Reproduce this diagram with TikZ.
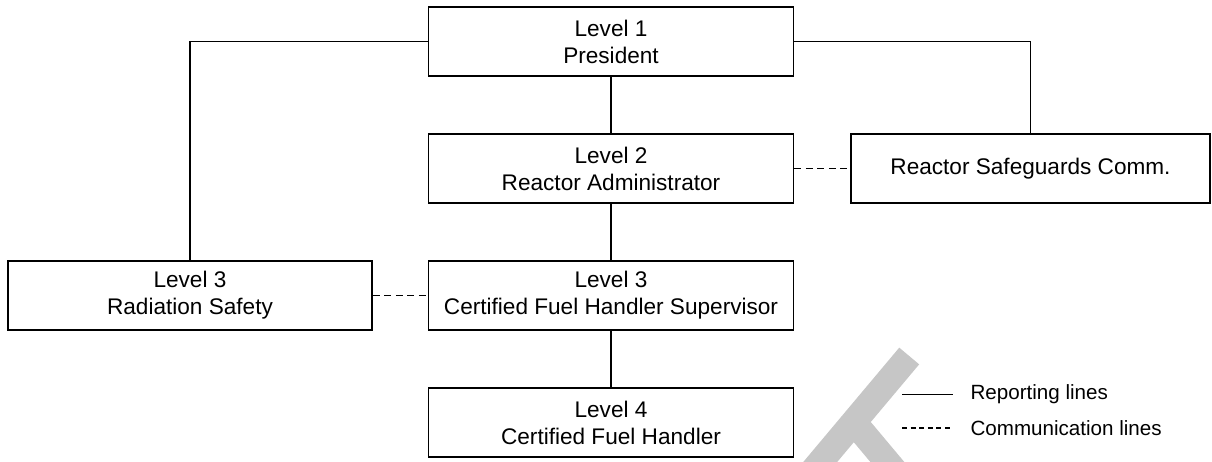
\documentclass[tikz,border=0pt]{standalone}
\usepackage{fontspec}
\setmainfont{Liberation Sans}
\definecolor{markgray}{RGB}{198,198,198}

\begin{document}
\begin{tikzpicture}[
    x=1pt, y=-1pt,
    every node/.style={font=\fontsize{22.6}{27}\selectfont},
    levelbox/.style={draw, line width=1.6pt, minimum width=365pt,
        minimum height=69pt, inner sep=0pt, align=center},
    repline/.style={line width=1.6pt},
    commline/.style={line width=1.6pt, dash pattern=on 7pt off 4.5pt},
    legendtext/.style={right, font=\fontsize{20.6}{24}\selectfont}
]

\useasboundingbox (0, 0) rectangle (1212, 462);

% ===== WATERMARK (partly shown) =====
\begin{scope}
    \clip (0, 0) rectangle (1212, 462);
    \draw[markgray, line width=26pt] (909.2, 356) -- (799.9, 486.2);
    \draw[markgray, line width=26pt] (853.8, 422) -- (905.2, 483.3);
\end{scope}

% ===== MAIN CHAIN: Levels 1 to 4 =====
\node[levelbox] (pres)   at (611, 41.5)  {Level 1\\President};
\node[levelbox] (admin)  at (611, 168.5) {Level 2\\Reactor Administrator};
\node[levelbox] (cfhsup) at (611, 295.5) {Level 3\\Certified Fuel Handler Supervisor};
\node[levelbox] (cfh)    at (611, 422.5) {Level 4\\Certified Fuel Handler};

% --- Side boxes ---
\node[levelbox, minimum width=364pt] (radsafe) at (190, 295.5) {Level 3\\Radiation Safety};
\node[levelbox, minimum width=359pt] (rsc) at (1030.5, 168.5) {Reactor Safeguards Comm.};

% --- Reporting lines ---
\draw[repline] (pres) -- (admin);
\draw[repline] (admin) -- (cfhsup);
\draw[repline] (cfhsup) -- (cfh);
\draw[repline] (pres.west) -| (radsafe.north);
\draw[repline] (pres.east) -| (rsc.north);

% --- Communication lines ---
\draw[commline] (admin) -- (rsc);
\draw[commline] (radsafe) -- (cfhsup);

% ===== LEGEND =====
\coordinate (solidA) at (902, 394.5);
\coordinate (solidB) at (953, 394.5);
\coordinate (dashA)  at (902, 428);
\coordinate (dashB)  at (953, 428);
\draw[line width=1.5pt] (solidA) -- (solidB);
\draw[line width=1.5pt, dash pattern=on 5pt off 3.6pt] (dashA) -- (dashB);
\node[legendtext] (replabel) at (967, 394.5) {Reporting lines};
\node[legendtext] (comlabel) at (967, 428) {Communication lines};

\end{tikzpicture}
\end{document}
